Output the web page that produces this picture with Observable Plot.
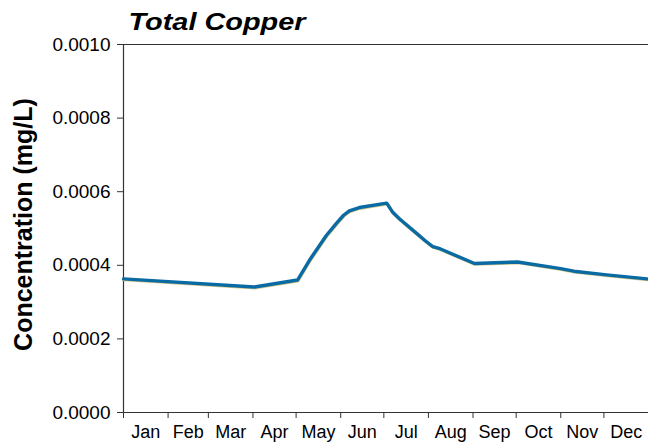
<!DOCTYPE html>
<html>
<head>
<meta charset="utf-8">
<script src="https://cdn.jsdelivr.net/npm/d3@7"></script>
<script src="https://cdn.jsdelivr.net/npm/@observablehq/plot@0.6"></script>
<style>
  html, body { margin: 0; padding: 0; background: #fff; }
  svg { display: block; }
</style>
</head>
<body>
<div id="chart"></div>
<script>
const titleText = "Total Copper";
const yLabel = "Concentration (mg/L)";
const monthLabels = ["Jan","Feb","Mar","Apr","May","Jun","Jul","Aug","Sep","Oct","Nov","Dec"];
const yTicks = [0, 0.0002, 0.0004, 0.0006, 0.0008, 0.0010];

// readings along the curve (date, mg/L)
const dates = ["2001-01-01","2001-04-02","2001-05-02","2001-05-11","2001-05-22","2001-05-29","2001-06-03",
               "2001-06-07","2001-06-14","2001-07-03","2001-07-07","2001-07-12","2001-07-24","2001-07-30",
               "2001-08-04","2001-08-09","2001-09-02","2001-10-02","2001-11-01","2001-11-10","2001-12-03",
               "2001-12-31"];
const values = [0.000363,0.000341,0.000360,0.000418,0.000481,0.000514,0.000536,
                0.000548,0.000557,0.000569,0.000545,0.000526,0.000486,0.000466,
                0.000451,0.000445,0.000405,0.000409,0.000391,0.000384,0.000374,
                0.000363];

const data = dates.map((d, i) => ({date: new Date(d), value: values[i]}));
const monthStarts = d3.range(12).map(m => new Date(Date.UTC(2001, m, 1)));
const monthMids = d3.range(12).map(m => new Date((Date.UTC(2001, m, 1) + Date.UTC(2001, m + 1, 1)) / 2));
const xStart = new Date(Date.UTC(2001, 0, 1));
const xEnd = new Date(Date.UTC(2002, 0, 1));

const font = "'Liberation Sans', Arial, sans-serif";

const chart = Plot.plot({
  width: 648,
  height: 448,
  marginLeft: 123,
  marginRight: 0,
  marginTop: 44,
  marginBottom: 36,
  style: {fontFamily: font, background: "#fff", color: "#000"},
  x: {type: "utc", domain: [xStart, xEnd]},
  y: {domain: [0, 0.001]},
  marks: [
    Plot.axisY({ticks: yTicks, tickFormat: d3.format(".4f"), tickSize: 6, tickPadding: 7,
                fontSize: 19, label: null, stroke: "#333"}),
    Plot.axisX({ticks: monthStarts, tickFormat: () => "", tickSize: 6, label: null, stroke: "#333"}),
    Plot.text(monthLabels, {x: monthMids, frameAnchor: "bottom", dy: 25, fontSize: 18, fill: "#000"}),
    Plot.ruleY([0], {stroke: "#333", strokeWidth: 1.2}),
    Plot.ruleY([0.001], {stroke: "#333", strokeWidth: 1.2}),
    Plot.ruleX([xStart], {stroke: "#333", strokeWidth: 1.2}),
    Plot.line(data, {x: "date", y: "value", stroke: "#d6c98a", strokeWidth: 3.2, dy: 0.8, dx: 0.4, strokeLinejoin: "round"}),
    Plot.line(data, {x: "date", y: "value", stroke: "#0a6aa3", strokeWidth: 3.4, strokeLinejoin: "round"}),
    Plot.text([yLabel], {frameAnchor: "left", dx: -100, dy: -4, rotate: -90, textAnchor: "middle",
                         lineAnchor: "middle", fontSize: 25, fontWeight: "bold", fill: "#000"}),
    Plot.text([titleText], {frameAnchor: "top-left", dx: 5, dy: -15, fontSize: 23, fontWeight: "bold",
                            fontStyle: "italic", textAnchor: "start", lineAnchor: "bottom", fill: "#000",
                            className: "chart-title"})
  ]
});
// widen the title to the width it has in the reference
const t = chart.querySelector(".chart-title text");
if (t) { t.setAttribute("textLength", 177); t.setAttribute("lengthAdjust", "spacingAndGlyphs"); }
document.getElementById("chart").appendChild(chart);
</script>
</body>
</html>
